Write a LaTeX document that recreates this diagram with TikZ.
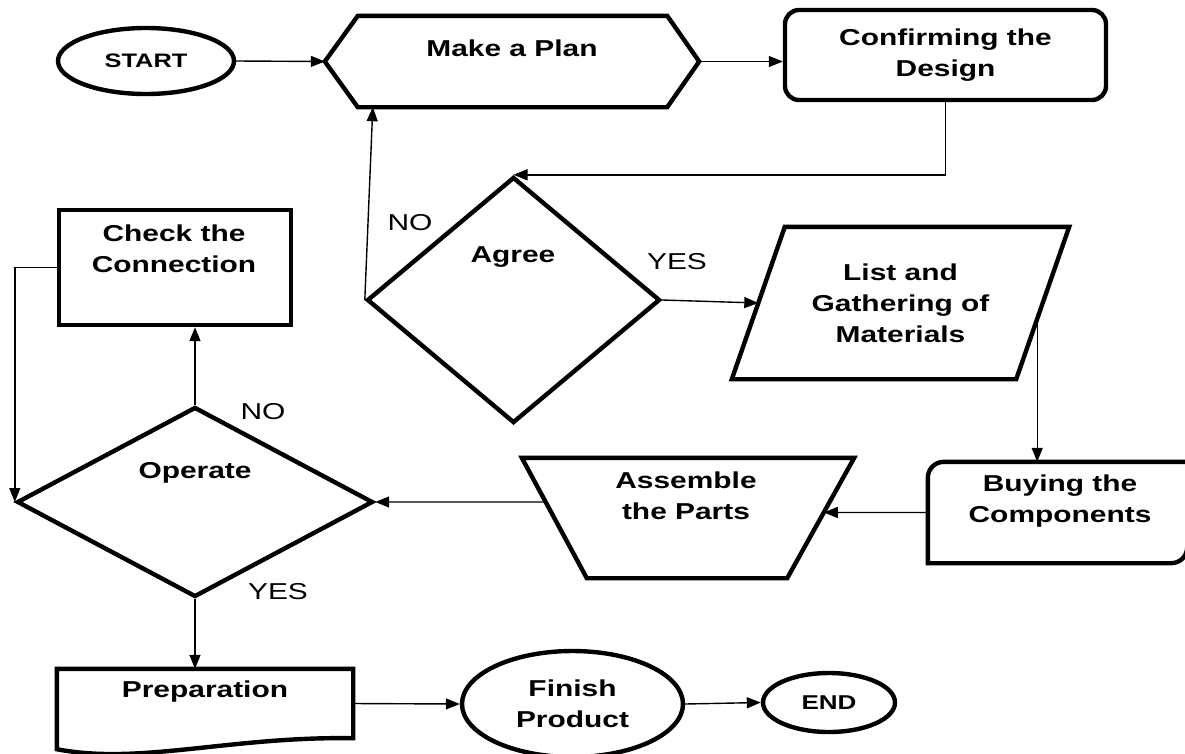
\documentclass[tikz,border=0pt]{standalone}
\usepackage{fontspec}
\newfontfamily\flowfont{Liberation Sans}[FakeStretch=1.3]
\usetikzlibrary{shapes.geometric,arrows.meta,calc}

\begin{document}
\begin{tikzpicture}[x=1pt,y=-1pt,
    shapeline/.style={draw=black,line width=4.4pt},
    term/.style={shapeline,ellipse,inner sep=0pt},
    decision/.style={shapeline,diamond,inner sep=0pt},
    frame/.style={inner sep=0pt},
    txt/.style={font=\flowfont\bfseries\fontsize{23}{31}\selectfont,align=center,inner sep=0pt},
    lbl/.style={font=\flowfont\fontsize{23}{31}\selectfont,inner sep=0pt},
    arr/.style={line width=1.4pt,-{Triangle[length=14pt,width=11pt]}}]

    \useasboundingbox (0,0) rectangle (1185,753);

    \node[term,minimum width=176pt,minimum height=66pt,font=\flowfont\bfseries\fontsize{19.5}{23}\selectfont] (start) at (146,61) {START};
    \node[frame,minimum width=374pt,minimum height=91pt] (plan) at (512,61.5) {};
    \node[shapeline,rounded corners=14pt,minimum width=321pt,minimum height=90pt,txt] (design) at (945.5,55) {Confirming the\\Design};
    \node[decision,minimum width=293pt,minimum height=246pt] (agree) at (513.5,300) {};
    \node[frame,minimum width=337pt,minimum height=152pt,txt] (list) at (900.5,303) {List and\\Gathering of\\Materials};
    \node[frame,minimum width=259pt,minimum height=101pt] (buying) at (1057.5,512.5) {};
    \node[frame,minimum width=332pt,minimum height=120pt] (assemble) at (688,518) {};
    \node[decision,minimum width=356pt,minimum height=190pt] (operate) at (195,502) {};
    \node[shapeline,minimum width=232pt,minimum height=115pt,inner sep=0pt] (check) at (175,267.5) {};
    \node[frame,minimum width=296pt,minimum height=69pt] (prep) at (205,703.5) {};
    \node[term,minimum width=221pt,minimum height=106pt,txt] (finish) at (572.5,704) {Finish\\Product};
    \node[term,minimum width=132pt,minimum height=59pt,font=\flowfont\bfseries\fontsize{20}{23}\selectfont] (stop) at (829,702.5) {END};

    \node[txt] (plantext) at (512,48) {Make a Plan};
    \node[txt] (agreetext) at (513,257) {Agree};
    \node[txt] (buyingtext) at (1060,501) {Buying the\\Components};
    \node[txt] (assembletext) at (686,496) {Assemble\\the Parts};
    \node[txt] (operatetext) at (195,473) {Operate};
    \node[txt] (checktext) at (174,249) {Check the\\Connection};
    \node[txt] (preptext) at (205,692) {Preparation};

    \node[lbl] (agreeno) at (410,223) {NO};
    \node[lbl] (agreeyes) at (677,262) {YES};
    \node[lbl] (operateno) at (263,412) {NO};
    \node[lbl] (operateyes) at (278,592) {YES};

    \draw[shapeline] (plan.west) -- ($(plan.north west)+(33,0)$) -- ($(plan.north east)+(-32,0)$) -- (plan.east)
        -- ($(plan.south east)+(-32,0)$) -- ($(plan.south west)+(33,0)$) -- cycle;
    \draw[shapeline] ($(list.north west)+(53,0)$) -- (list.north east) -- ($(list.south east)+(-53,0)$) -- (list.south west) -- cycle;
    \draw[shapeline] (buying.south west) [rounded corners=16pt] -- (buying.north west) [sharp corners] -- (buying.north east)
        [rounded corners=16pt] -- (buying.south east) [sharp corners] -- cycle;
    \draw[shapeline] (assemble.north west) -- (assemble.north east) -- ($(assemble.south east)+(-67,0)$) -- ($(assemble.south west)+(65,0)$) -- cycle;
    \draw[shapeline] (prep.south east) -- (prep.north east) -- (prep.north west) -- ($(prep.south west)+(0,11)$)
        .. controls ($(prep.south west)+(83,27)$) and ($(prep.south east)+(-123,-2)$) .. (prep.south east) -- cycle;

    \draw[arr] (start.east) -- (plan.west);
    \draw[arr] (plan.east) -- (plan.east -| design.west);
    \draw[arr] (design.south) |- (agree.north);
    \draw[arr] (agree.west) -- ($(plan.south west)+(48,0)$);
    \draw[arr] (agree.east) -- ($(list.south west)!.5!(list.north west)+(26.5,0)$);
    \coordinate (listout) at ($(list.north east)!.6!(list.south east)+(-32,0)$);
    \draw[arr] (listout) -- (listout |- buying.north);
    \draw[arr] (buying.west) -- ($(assemble.north east)!.454!(assemble.south east)+(-30.4,0)$);
    \draw[arr] ($(assemble.north west)!.367!(assemble.south west)+(24,0)$) -- (operate.east);
    \draw[arr] (operate.north) -- (operate.north |- check.south);
    \draw[arr] (check.west) -| (operate.west);
    \draw[arr] (operate.south) -- (operate.south |- prep.north);
    \draw[arr] (prep.east) -- (finish.west);
    \draw[arr] (finish.east) -- (stop.west);
\end{tikzpicture}
\end{document}
